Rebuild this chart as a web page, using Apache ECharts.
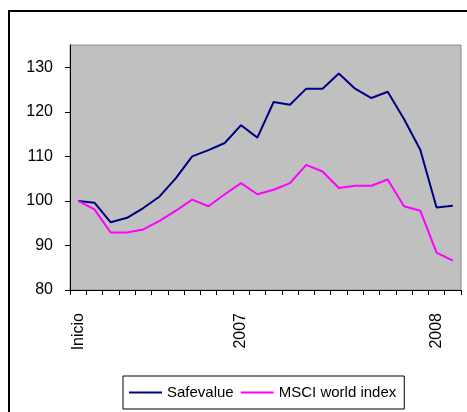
<!DOCTYPE html>
<html>
<head>
<meta charset="utf-8">
<script src="https://cdn.jsdelivr.net/npm/echarts@6/dist/echarts.min.js"></script>
<style>
  html, body { margin: 0; padding: 0; background: #fff; }
  #chart { width: 467px; height: 412px; }
</style>
</head>
<body>
<div id="chart"></div>
<script>
    //x轴类目 (24 periods, only a few are labelled)
    var categories = ['Inicio','','','','','','','','','','2007','','','','','','','','','','','','2008',''];

    //y轴刻度
    var yTicks = [80, 90, 100, 110, 120, 130];

    //Safevalue
    var safevalue = [100, 99.6, 95.2, 96.2, 98.4, 101, 105.1, 110, 111.4, 113, 117, 114.2,
                     122.2, 121.6, 125.2, 125.2, 128.6, 125.2, 123.1, 124.5, 118.4, 111.5, 98.5, 98.9];

    //MSCI world index
    var msci = [100, 98.1, 92.9, 92.9, 93.6, 95.5, 97.8, 100.3, 98.8, 101.5, 104, 101.5,
                102.5, 104, 108.1, 106.6, 102.9, 103.4, 103.4, 104.8, 98.8, 97.8, 88.4, 86.6];

    var font = 'Liberation Sans, Arial, sans-serif';

    var myChart = echarts.init(document.getElementById('chart'));

    var option = {
        backgroundColor: '#fff',
        animation: false,
        textStyle: { fontFamily: font },
        //外框
        graphic: [{
            type: 'rect',
            shape: { x: 9, y: 11, width: 480, height: 420 },
            style: { fill: 'none', stroke: '#000', lineWidth: 2 },
            silent: true
        }],
        grid: {
            left: 70, top: 45, right: 6, bottom: 122,
            containLabel: false,
            outerBoundsMode: 'none',
            show: true,
            backgroundColor: '#C0C0C0',
            borderColor: '#8c8c8c',
            borderWidth: 1
        },
        legend: {
            left: 123,
            top: 376,
            width: 285,
            padding: [9, 8, 9, 6],
            borderColor: '#000',
            borderWidth: 1,
            itemGap: 7,
            itemWidth: 33,
            itemHeight: 2,
            icon: 'rect',
            textStyle: { fontFamily: font, fontSize: 15, color: '#000' },
            data: ['Safevalue', 'MSCI world index']
        },
        xAxis: {
            type: 'category',
            boundaryGap: true,
            data: categories,
            axisLine: { lineStyle: { color: '#000', width: 1 } },
            axisTick: { show: true, interval: 0, length: 5, lineStyle: { color: '#000' } },
            axisLabel: {
                interval: 0,
                rotate: 90,
                margin: 23,
                fontSize: 16,
                color: '#000',
                fontFamily: font
            },
            splitLine: { show: false }
        },
        yAxis: {
            type: 'value',
            min: 80,
            max: 135,
            interval: 10,
            axisLine: { show: true, lineStyle: { color: '#000', width: 1 } },
            axisTick: { show: true, length: 5, customValues: yTicks, lineStyle: { color: '#000' } },
            axisLabel: {
                customValues: yTicks,
                margin: 17,
                fontSize: 16,
                color: '#000',
                fontFamily: font
            },
            splitLine: { show: false }
        },
        series: [
            {
                name: 'Safevalue',
                type: 'line',
                data: safevalue,
                symbol: 'none',
                itemStyle: { color: '#000080' },
                lineStyle: { color: '#000080', width: 2 }
            },
            {
                name: 'MSCI world index',
                type: 'line',
                data: msci,
                symbol: 'none',
                itemStyle: { color: '#FF00FF' },
                lineStyle: { color: '#FF00FF', width: 2 }
            }
        ]
    };

    myChart.setOption(option);
</script>
</body>
</html>
